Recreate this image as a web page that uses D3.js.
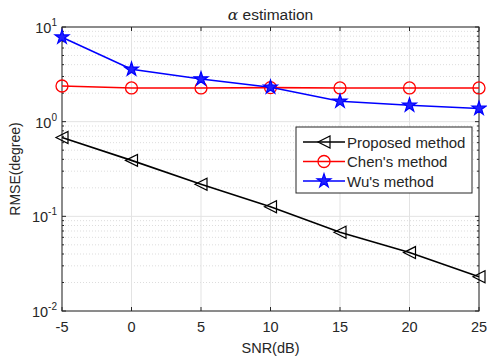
<!DOCTYPE html>
<html>
<head>
<meta charset="utf-8">
<script src="https://cdn.jsdelivr.net/npm/d3@7"></script>
<style>
body { margin: 0; background: #fff; }
text { font-family: "Liberation Sans", Arial, sans-serif; fill: #262626; }
</style>
</head>
<body>
<script>
var snr = [-5, 0, 5, 10, 15, 20, 25];
var proposed = [0.68, 0.39, 0.218, 0.126, 0.068, 0.0414, 0.023];
var chen = [2.38, 2.27, 2.27, 2.29, 2.27, 2.27, 2.27];
var wu = [7.8, 3.57, 2.82, 2.31, 1.64, 1.49, 1.38];
var xTicks = [-5, 0, 5, 10, 15, 20, 25];
var yDecades = [0.01, 0.1, 1, 10];
var seriesNames = ['Proposed method', "Chen's method", "Wu's method"];

var width = 487, height = 363;
var m = {left: 62, right: 8, top: 27, bottom: 52};
var pw = width - m.left - m.right, ph = height - m.top - m.bottom;

var svg = d3.select('body').append('svg')
  .attr('width', width)
  .attr('height', height);

var x = d3.scaleLinear().domain([-5, 25]).range([m.left, m.left + pw]);
var y = d3.scaleLog().domain([0.01, 10]).range([m.top + ph, m.top]);

var minor = [];
[0.01, 0.1, 1].forEach(function(d) {
  for (var k = 2; k <= 9; k++) minor.push(d * k);
});

// grid
var g = svg.append('g');
g.selectAll('.mg').data(minor).enter().append('line')
  .attr('x1', m.left).attr('x2', m.left + pw)
  .attr('y1', function(d) { return y(d); }).attr('y2', function(d) { return y(d); })
  .attr('stroke', '#d4d4d4').attr('stroke-width', 0.8).attr('stroke-dasharray', '1,2');
g.selectAll('.xg').data(xTicks).enter().append('line')
  .attr('x1', function(d) { return x(d); }).attr('x2', function(d) { return x(d); })
  .attr('y1', m.top).attr('y2', m.top + ph)
  .attr('stroke', '#e3e3e3').attr('stroke-width', 1);
g.selectAll('.yg').data(yDecades).enter().append('line')
  .attr('x1', m.left).attr('x2', m.left + pw)
  .attr('y1', function(d) { return y(d); }).attr('y2', function(d) { return y(d); })
  .attr('stroke', '#e3e3e3').attr('stroke-width', 1);

// box + ticks
var ax = svg.append('g').attr('stroke', '#262626').attr('stroke-width', 1);
ax.append('rect').attr('x', m.left).attr('y', m.top).attr('width', pw).attr('height', ph)
  .attr('fill', 'none');
xTicks.forEach(function(d) {
  ax.append('line').attr('x1', x(d)).attr('x2', x(d)).attr('y1', m.top + ph).attr('y2', m.top + ph - 4);
  ax.append('line').attr('x1', x(d)).attr('x2', x(d)).attr('y1', m.top).attr('y2', m.top + 4);
});
yDecades.forEach(function(d) {
  ax.append('line').attr('x1', m.left).attr('x2', m.left + 4).attr('y1', y(d)).attr('y2', y(d));
  ax.append('line').attr('x1', m.left + pw).attr('x2', m.left + pw - 4).attr('y1', y(d)).attr('y2', y(d));
});
minor.forEach(function(d) {
  ax.append('line').attr('x1', m.left).attr('x2', m.left + 2).attr('y1', y(d)).attr('y2', y(d));
  ax.append('line').attr('x1', m.left + pw).attr('x2', m.left + pw - 2).attr('y1', y(d)).attr('y2', y(d));
});

// tick labels
svg.selectAll('.xl').data(xTicks).enter().append('text')
  .attr('x', function(d) { return x(d); }).attr('y', m.top + ph + 21)
  .attr('text-anchor', 'middle').style('font-size', '14.5px')
  .text(function(d) { return d; });
yDecades.forEach(function(d) {
  var e = Math.round(Math.log10(d));
  var t = svg.append('text').attr('x', m.left - 5).attr('y', y(d) + 6)
    .attr('text-anchor', 'end').style('font-size', '14.5px');
  t.append('tspan').text('10');
  t.append('tspan').attr('dy', -7).style('font-size', '10px').text(e);
});

svg.append('text').attr('x', m.left + pw / 2).attr('y', m.top + ph + 42)
  .attr('text-anchor', 'middle').style('font-size', '14.5px').text('SNR(dB)');
svg.append('text').attr('transform', 'translate(20,' + (m.top + ph / 2) + ') rotate(-90)')
  .attr('text-anchor', 'middle').style('font-size', '14px').text('RMSE(degree)');
var title = svg.append('text').attr('x', m.left + pw / 2).attr('y', 20)
  .attr('text-anchor', 'middle').style('font-size', '15.5px');
title.append('tspan').style('font-family', '"DejaVu Serif", serif').style('font-style', 'italic').text('α');
title.append('tspan').text(' estimation');

// series
var colors = ['#000000', '#ff0000', '#0000ff'];
var allData = [proposed, chen, wu];
var line = d3.line().x(function(d) { return x(d[0]); }).y(function(d) { return y(d[1]); });

function triangle(s) {
  return 'M' + (-s) + ',0L' + s + ',' + (-s) + 'L' + s + ',' + s + 'Z';
}
var star = d3.symbol().type(d3.symbolStar).size(60);

function marker(sel, i) {
  if (i === 0) {
    sel.append('path').attr('d', triangle(6)).attr('fill', 'none')
      .attr('stroke', colors[i]).attr('stroke-width', 1.2);
  } else if (i === 1) {
    sel.append('circle').attr('r', 6).attr('fill', 'none')
      .attr('stroke', colors[i]).attr('stroke-width', 1.3);
  } else {
    sel.append('path').attr('d', star()).attr('fill', '#2020ff')
      .attr('stroke', colors[i]).attr('stroke-width', 1.2);
  }
}

allData.forEach(function(vals, i) {
  var pts = snr.map(function(s, j) { return [s, vals[j]]; });
  svg.append('path').datum(pts).attr('d', line)
    .attr('fill', 'none').attr('stroke', colors[i]).attr('stroke-width', 1.6);
  pts.forEach(function(p) {
    var mg = svg.append('g').attr('transform', 'translate(' + x(p[0]) + ',' + y(p[1]) + ')');
    marker(mg, i);
  });
});

// legend
var lg = svg.append('g').attr('transform', 'translate(296,127)');
lg.append('rect').attr('width', 176).attr('height', 66).attr('fill', '#fff')
  .attr('stroke', '#262626').attr('stroke-width', 1);
seriesNames.forEach(function(name, i) {
  var row = lg.append('g').attr('transform', 'translate(0,' + (15 + i * 19.5) + ')');
  row.append('line').attr('x1', 7).attr('x2', 49).attr('stroke', colors[i]).attr('stroke-width', 1.6);
  var mk = row.append('g').attr('transform', 'translate(28,0)');
  marker(mk, i);
  row.append('text').attr('x', 51).attr('y', 5.5).style('font-size', '15px').text(name);
});
</script>
</body>
</html>
